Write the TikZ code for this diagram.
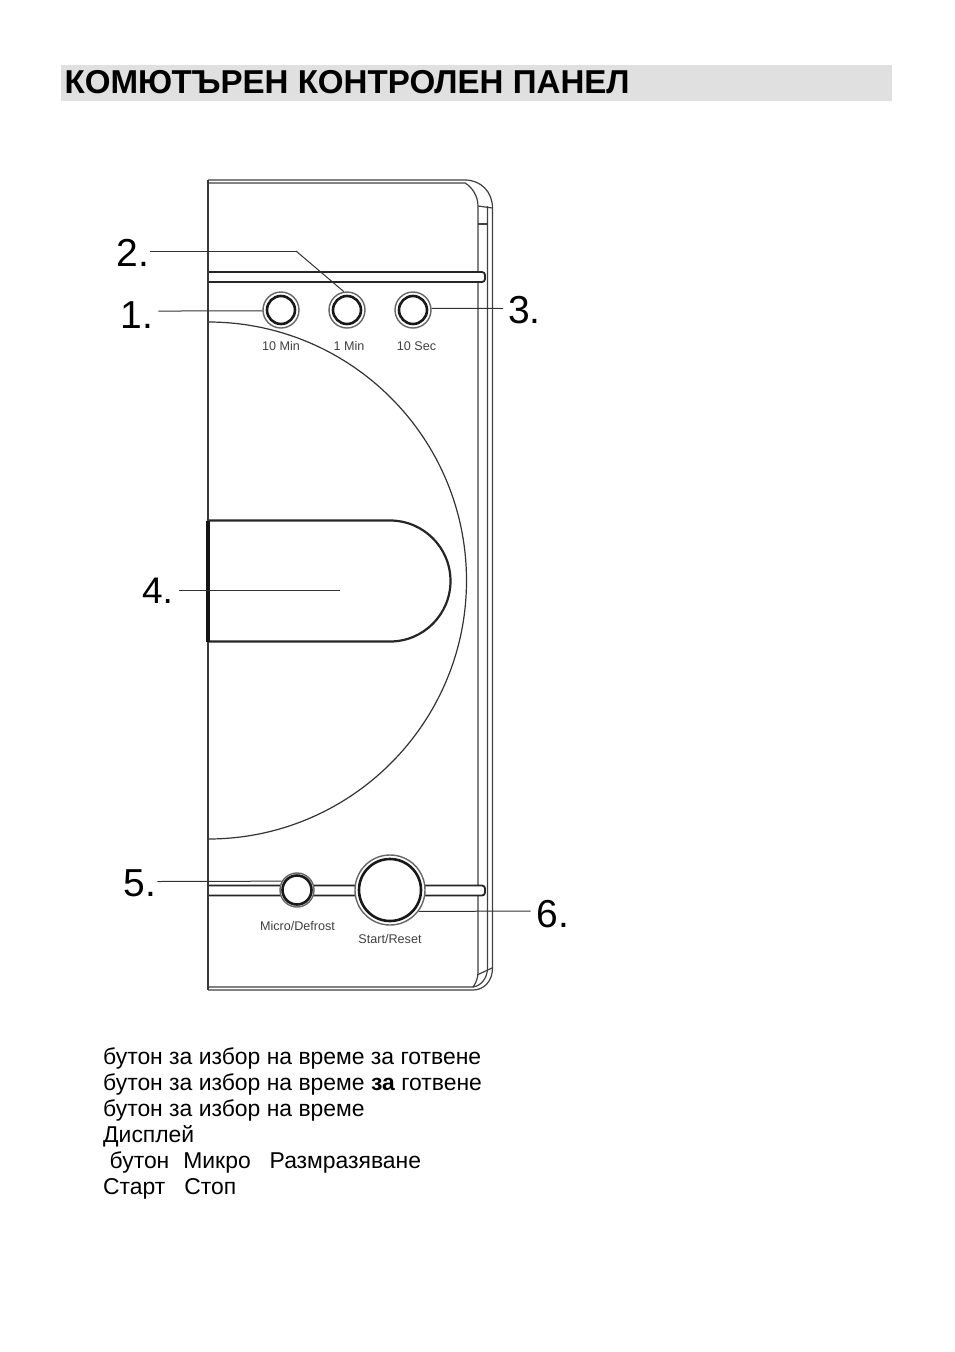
\documentclass[tikz,border=0pt]{standalone}
\usepackage{fontspec}
\setmainfont{Liberation Sans}
\begin{document}
\begin{tikzpicture}[x=1pt, y=1pt,
        outline/.style={line width=1.2pt, draw=black!75},
        band/.style={line width=1.8pt, draw=black!85, fill=white, rounded corners=3pt},
        num/.style={font=\fontsize{39}{40}\selectfont, inner sep=0pt, text height=29pt, text depth=0pt, text=black},
        caption/.style={font=\fontsize{12.6}{14}\selectfont, inner sep=0pt, text=black!75},
        ring/.style={shape=circle, draw=black!60, line width=1.4pt, fill=white, inner sep=0pt},
        core/.style={shape=circle, draw=black!90, line width=2.6pt, fill=white, inner sep=0pt},
        leader/.style={line width=1pt, draw=black!80},
        row/.style={font=\fontsize{22.9}{26}\selectfont, anchor=base west, inner sep=0pt}]
        \path[use as bounding box, fill=white] (0,0) rectangle (954,-1352);

        \node[fill=black!12, minimum width=831pt, minimum height=36pt, inner sep=0pt] (T) at (476.5,-83) {};
        \node[anchor=base west, inner sep=0pt, font=\fontsize{33.1}{36}\selectfont\bfseries] (Title) at (64.5,-93) {КОМЮТЪРЕН КОНТРОЛЕН ПАНЕЛ};

        \draw[outline] (208,-180) -- (465,-180) .. controls (481,-180) and (492.5,-192) .. (492.5,-208) -- (492.5,-968) .. controls (492.5,-981) and (484,-990) .. (473,-990) -- (208,-990);
        \draw[outline] (208,-183) -- (465,-183) .. controls (472,-187) and (478,-196) .. (478,-206) -- (478,-972) .. controls (478,-978) and (476,-983) .. (473,-987) -- (208,-987);
        \draw[outline] (478,-206) -- (492.5,-208);
        \draw[outline] (478,-224) -- (487.5,-224);
        \draw[outline] (487.5,-206) -- (487.5,-968) .. controls (487.5,-978) and (481,-986) .. (473,-987);
        \draw[outline] (477,-975) -- (492,-968);

        \draw[line width=1.2pt, draw=black!80] (208,-322) arc[start angle=90, end angle=-90, radius=258.5pt];
        \draw[band] (208,-272) -- (485,-272) -- (485,-282) -- (208,-282);
        \draw[band] (208,-885.5) -- (485,-885.5) -- (485,-895.5) -- (208,-895.5);
        \draw[line width=2.2pt, draw=black!85, fill=white] (390,-520.5) -- (208,-520.5) -- (208,-641.5) -- (390,-641.5) arc[start angle=-90, end angle=90, radius=60.5pt];
        \draw[line width=2.8pt, draw=black!78] (208,-180) -- (208,-990);
        \draw[line width=3.4pt, draw=black!92] (208,-520.5) -- (208,-641.5);

        \node[ring, minimum size=36pt] (B1) at (281,-310) {};
        \node[ring, minimum size=36pt] (B2) at (347,-310) {};
        \node[ring, minimum size=36pt] (B3) at (413,-310) {};
        \node[ring, minimum size=34pt] (B5) at (297,-890) {};
        \node[ring, minimum size=70pt] (B6) at (390,-890) {};
        \node[core, minimum size=28pt] (C1) at (281,-310) {};
        \node[core, minimum size=28pt] (C2) at (347,-310) {};
        \node[core, minimum size=28pt] (C3) at (413,-310) {};
        \node[core, minimum size=29pt] (C5) at (297,-890) {};
        \node[core, minimum size=62pt] (C6) at (390,-890) {};

        \node[caption] (L1) at (281,-346) {10 Min};
        \node[caption] (L2) at (349,-346) {1 Min};
        \node[caption] (L3) at (416.5,-346) {10 Sec};
        \node[caption] (L5) at (297.5,-925.5) {Micro/Defrost};
        \node[caption] (L6) at (390,-938.5) {Start/Reset};

        \node[num] (N1) at (137,-313.5) {1.};
        \node[num] (N2) at (133,-251.5) {2.};
        \node[num] (N3) at (524.5,-308.5) {3.};
        \node[num] (N5) at (140,-881.5) {5.};
        \node[num] (N6) at (553,-913) {6.};
        \node[num, font=\fontsize{37}{37}\selectfont, text height=27pt] (N4) at (157.5,-590) {4.};

        \coordinate (K2) at (296,-251);
        \coordinate (E4) at (340,-590);

        \path[leader] ([xshift=5pt, yshift=2.5pt]N1.east) edge (B1.183);
        \path[leader] ([xshift=1pt, yshift=0.5pt]N2.east) edge (K2);
        \path[leader] (K2) edge (B2.100);
        \path[leader] (B3.5) edge ([xshift=-5pt]N3.west);
        \path[leader] ([xshift=6pt]N4.east) edge (E4);
        \path[leader] ([xshift=1pt]N5.east) edge (B5.150);
        \path[leader] (B6.-37) edge ([xshift=-6pt, yshift=2pt]N6.west);

        \node[row] (R1) at (103,-1064) {бутон за избор на време за готвене};
        \node[row] (R2) at (103,-1090) {бутон за избор на време \textbf{за} готвене};
        \node[row] (R3) at (103,-1116) {бутон за избор на време};
        \node[row] (R4) at (103,-1142.5) {Дисплей};
        \node[row] (R5) at (109.5,-1168.7) {бутон\hspace{14pt}Микро\hspace{19pt}Размразяване};
        \node[row] (R6) at (103,-1194.7) {Старт\hspace{19pt}Стоп};
\end{tikzpicture}
\end{document}
